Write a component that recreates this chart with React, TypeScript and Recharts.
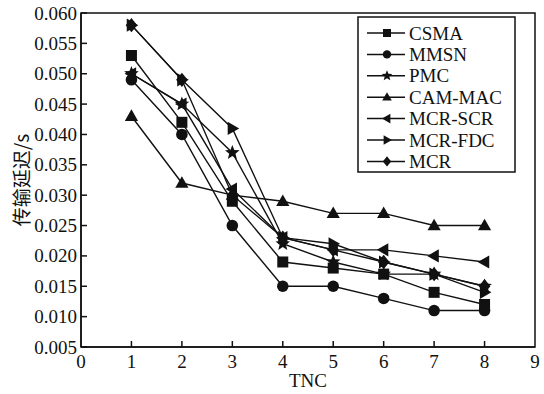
import React from 'react';
import { LineChart, Line, XAxis, YAxis, ReferenceArea, Legend } from 'recharts';

const tnc = [1, 2, 3, 4, 5, 6, 7, 8];
const csma = [0.053, 0.042, 0.029, 0.019, 0.018, 0.017, 0.014, 0.012];
const mmsn = [0.049, 0.040, 0.025, 0.015, 0.015, 0.013, 0.011, 0.011];
const pmc = [0.050, 0.045, 0.037, 0.022, 0.019, 0.017, 0.017, 0.015];
const camMac = [0.043, 0.032, 0.030, 0.029, 0.027, 0.027, 0.025, 0.025];
const mcrScr = [0.050, 0.045, 0.031, 0.023, 0.021, 0.021, 0.020, 0.019];
const mcrFdc = [0.058, 0.049, 0.041, 0.023, 0.022, 0.019, 0.017, 0.014];
const mcr = [0.058, 0.049, 0.030, 0.023, 0.021, 0.019, 0.017, 0.015];

const xTicks = [0, 1, 2, 3, 4, 5, 6, 7, 8, 9];
const yTicks = [0.005, 0.01, 0.015, 0.02, 0.025, 0.03, 0.035, 0.04, 0.045, 0.05, 0.055, 0.06];

const seriesNames = ['CSMA', 'MMSN', 'PMC', 'CAM-MAC', 'MCR-SCR', 'MCR-FDC', 'MCR'];
const seriesValues = [csma, mmsn, pmc, camMac, mcrScr, mcrFdc, mcr];
const shapes = ['square', 'circle', 'star', 'triangle', 'left', 'right', 'diamond'];

const data = tnc.map((t, i) => {
  const row: Record<string, number> = { tnc: t };
  seriesNames.forEach((n, k) => { row[n] = seriesValues[k][i]; });
  return row;
});

const FONT = '"Liberation Serif", "Times New Roman", serif';
const INK = '#111';

function Marker({ shape, cx, cy, r }: { shape: string; cx: number; cy: number; r: number }) {
  if (cx == null || cy == null) return null;
  switch (shape) {
    case 'square':
      return <rect x={cx - r} y={cy - r} width={2 * r} height={2 * r} fill={INK} />;
    case 'circle':
      return <circle cx={cx} cy={cy} r={r * 1.05} fill={INK} />;
    case 'star': {
      const pts: string[] = [];
      for (let i = 0; i < 10; i++) {
        const rr = i % 2 === 0 ? r * 1.4 : r * 0.6;
        const a = -Math.PI / 2 + (i * Math.PI) / 5;
        pts.push(`${cx + rr * Math.cos(a)},${cy + rr * Math.sin(a)}`);
      }
      return <polygon points={pts.join(' ')} fill={INK} />;
    }
    case 'triangle':
      return <polygon points={`${cx},${cy - r * 1.25} ${cx - r * 1.2},${cy + r * 0.85} ${cx + r * 1.2},${cy + r * 0.85}`} fill={INK} />;
    case 'left':
      return <polygon points={`${cx - r * 1.25},${cy} ${cx + r * 0.85},${cy - r * 1.2} ${cx + r * 0.85},${cy + r * 1.2}`} fill={INK} />;
    case 'right':
      return <polygon points={`${cx + r * 1.25},${cy} ${cx - r * 0.85},${cy - r * 1.2} ${cx - r * 0.85},${cy + r * 1.2}`} fill={INK} />;
    default:
      return <polygon points={`${cx},${cy - r * 1.3} ${cx + r * 1.05},${cy} ${cx},${cy + r * 1.3} ${cx - r * 1.05},${cy}`} fill={INK} />;
  }
}

const YTick = (props: any) => {
  const { x, y, payload } = props;
  return (
    <g>
      <line x1={x + 4} x2={x + 10} y1={y} y2={y} stroke={INK} strokeWidth={1.5} />
      <text x={x} y={y} textAnchor="end" dominantBaseline="central" fontFamily={FONT} fontSize={19} fill={INK}>
        {Number(payload.value).toFixed(3)}
      </text>
    </g>
  );
};

const XTick = (props: any) => {
  const { x, y, payload } = props;
  return (
    <g>
      {payload.value > 0 && payload.value < 9 && (
        <line x1={x} x2={x} y1={y - 4} y2={y - 10} stroke={INK} strokeWidth={1.5} />
      )}
      <text x={x} y={y + 10} textAnchor="middle" dominantBaseline="central" fontFamily={FONT} fontSize={19} fill={INK}>
        {payload.value}
      </text>
    </g>
  );
};

const LegendBox = () => (
  <svg width={160} height={158}>
    <rect x={1} y={1} width={157} height={155} fill="#fff" stroke={INK} strokeWidth={1.5} />
    {seriesNames.map((n, i) => {
      const y = 17 + i * 21.4;
      return (
        <g key={n}>
          <line x1={10} x2={48} y1={y} y2={y} stroke={INK} strokeWidth={1.5} />
          <Marker shape={shapes[i]} cx={30} cy={y} r={4} />
          <text x={52} y={y} dominantBaseline="central" fontFamily={FONT} fontSize={19} fill={INK}>{n}</text>
        </g>
      );
    })}
  </svg>
);

export default function App() {
  return (
    <div style={{ position: 'absolute', left: 0, top: 0, width: 544, height: 394, background: '#fff' }}>
      <LineChart width={544} height={394} data={data} margin={{ top: 13, right: 9, bottom: 0, left: 0 }}>
        <XAxis
          dataKey="tnc"
          type="number"
          domain={[0, 9]}
          ticks={xTicks}
          height={47}
          tickSize={0}
          tickMargin={4}
          tick={<XTick />}
          axisLine={{ stroke: INK, strokeWidth: 1.5 }}
          tickLine={false}
          label={{
            content: () => (
              <text x={308} y={380} textAnchor="middle" dominantBaseline="central" fontFamily={FONT} fontSize={19} fill={INK}>
                TNC
              </text>
            ),
          }}
        />
        <YAxis
          type="number"
          domain={[0.005, 0.06]}
          ticks={yTicks}
          width={81}
          tickSize={0}
          tickMargin={4}
          tick={<YTick />}
          axisLine={{ stroke: INK, strokeWidth: 1.5 }}
          tickLine={false}
          label={{
            content: () => (
              <text x={20} y={180} transform="rotate(-90 20 180)" textAnchor="middle" dominantBaseline="central"
                fontFamily='"Noto Sans CJK SC", sans-serif' fontSize={19} fill={INK}>
                传输延迟/s
              </text>
            ),
          }}
        />
        <ReferenceArea x1={0} x2={9} y1={0.005} y2={0.06} fill="none" stroke={INK} strokeWidth={1.5} fillOpacity={0} />
        {seriesNames.map((n, k) => (
          <Line
            key={n}
            dataKey={n}
            stroke={INK}
            strokeWidth={1.4}
            isAnimationActive={false}
            dot={(p: any) => <Marker key={`${n}-${p.index}`} shape={shapes[k]} cx={p.cx} cy={p.cy} r={5.5} />}
            activeDot={false}
          />
        ))}
        <Legend
          layout="vertical"
          align="center"
          verticalAlign="middle"
          content={<LegendBox />}
          wrapperStyle={{ left: 357, top: 16, width: 160, height: 158 }}
        />
      </LineChart>
    </div>
  );
}
